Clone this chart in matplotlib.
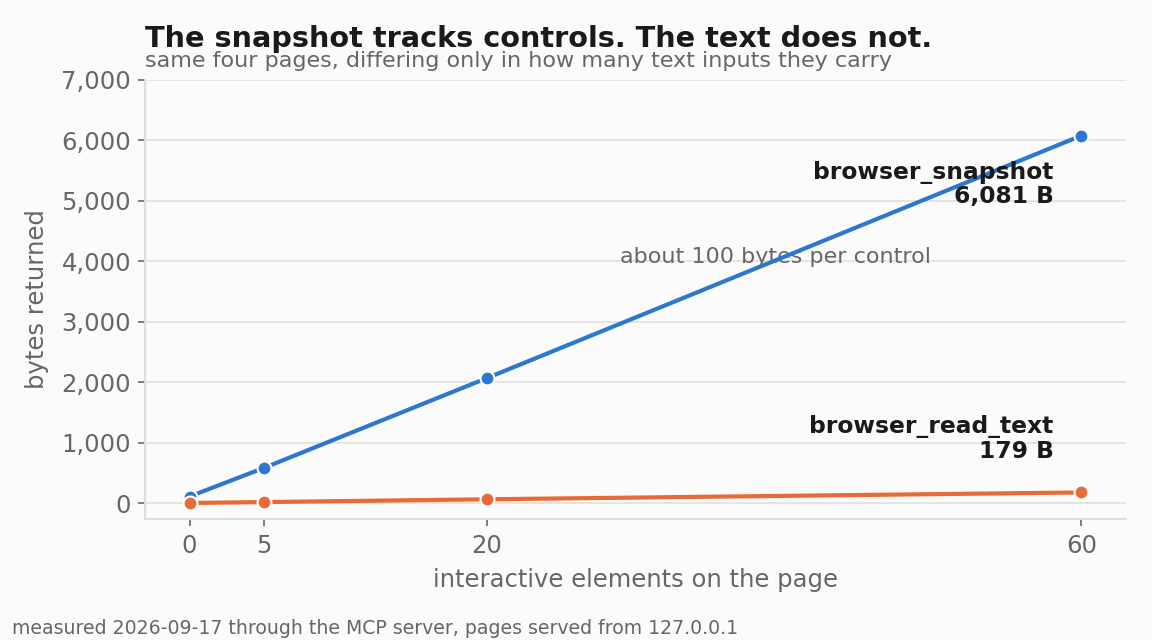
import matplotlib
matplotlib.use("Agg")
import matplotlib.pyplot as plt
from matplotlib.ticker import FuncFormatter

# nombre d'éléments interactifs sur la page
elements = [0, 5, 20, 60]
# octets retournés par chaque outil
snapshot_bytes = [112, 585, 2070, 6081]
read_text_bytes = [5, 20, 66, 179]

tick_labels_x = ["0", "5", "20", "60"]

blue = "#2e77d0"
orange = "#e86a37"
grey = "#666666"
bg = "#fbfbfb"

fig = plt.figure(figsize=(11.52, 6.4), dpi=100, facecolor=bg)
ax = fig.add_axes([145/1152, 1-519/640, (1126-145)/1152, (519-80)/640])
ax.set_facecolor(bg)

ax.plot(elements, snapshot_bytes, color=blue, lw=3, marker="o", ms=10,
        mec="white", mew=1.5, zorder=3)
ax.plot(elements, read_text_bytes, color=orange, lw=3, marker="o", ms=10,
        mec="white", mew=1.5, zorder=4)

ax.set_xlim(-3, 63)
ax.set_ylim(-260, 7000)
ax.set_xticks(elements)
ax.set_xticklabels(tick_labels_x)
ax.set_yticks(range(0, 7001, 1000))
ax.yaxis.set_major_formatter(FuncFormatter(lambda v, p: f"{int(v):,}"))

ax.grid(axis="y", color="#e0e0dc", lw=1.2, zorder=0)
ax.set_axisbelow(True)
for s in ["top", "right"]:
    ax.spines[s].set_visible(False)
for s in ["left", "bottom"]:
    ax.spines[s].set_color("#dddddd")
    ax.spines[s].set_linewidth(1.5)
ax.tick_params(colors=grey, labelsize=17.5, length=5, width=1.2, pad=5)
ax.tick_params(axis="x", pad=6)

ax.set_xlabel("interactive elements on the page", fontsize=17.5, color=grey, labelpad=7)
ax.set_ylabel("bytes returned", fontsize=17.5, color=grey, labelpad=9)

ax.text(39.4, 3970, "about 100 bytes per control", fontsize=16, color=grey,
        ha="center", va="baseline", zorder=1)

ax.annotate(f"browser_snapshot\n{snapshot_bytes[-1]:,} B", xy=(elements[-1], snapshot_bytes[-1]),
            xytext=(-20, -18), textcoords="offset points", ha="right", va="top",
            fontsize=16.8, fontweight="bold", color="#1a1a1a", linespacing=1.1)
ax.annotate(f"browser_read_text\n{read_text_bytes[-1]:,} B", xy=(elements[-1], read_text_bytes[-1]),
            xytext=(-20, 21), textcoords="offset points", ha="right", va="bottom",
            fontsize=16.8, fontweight="bold", color="#1a1a1a", linespacing=1.1)

fig.text(145/1152, 1-47/640, "The snapshot tracks controls. The text does not.",
         fontsize=20.7, fontweight="bold", color="#1a1a1a", va="baseline")
fig.text(145/1152, 1-67/640, "same four pages, differing only in how many text inputs they carry",
         fontsize=16, color=grey, va="baseline")
fig.text(12/1152, 1-634/640, "measured 2026-09-17 through the MCP server, pages served from 127.0.0.1",
         fontsize=13.6, color=grey, va="baseline")

fig.savefig("out.png", dpi=100, facecolor=bg)
